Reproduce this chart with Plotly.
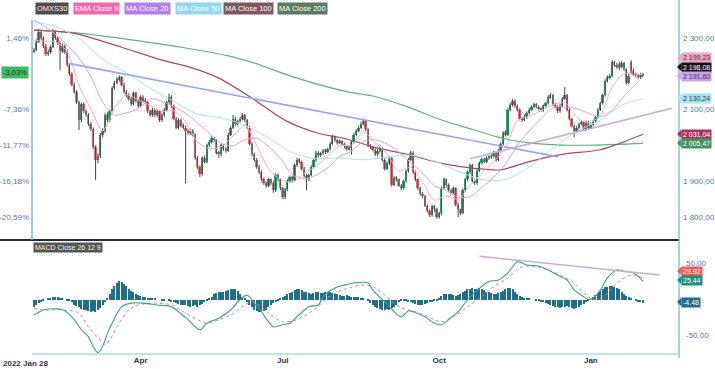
import plotly.graph_objects as go

# ---------------- data ----------------
TICK_POS = [45, 105, 171, 235]
TICK_TEXT = ["Apr", "Jul", "Oct", "Jan"]
FIRST_DATE_LABEL = "2022 Jan 28"

OPEN = [
2262,2267,2290,2318,2300,2278,2255,2262,2275,2318,
2300,2285,2265,2278,2262,2225,2200,2170,2150,2120,
2070,2115,2095,2085,2060,2045,1995,1960,1970,2030,
2040,2085,2070,2095,2160,2175,2185,2190,2170,2150,
2140,2130,2115,2145,2125,2110,2135,2125,2120,2095,
2085,2100,2085,2095,2070,2085,2100,2120,2135,2110,
2075,2050,2070,2055,2050,2040,2035,2040,2030,1965,
1940,1920,1965,1955,2000,2010,2020,2015,1980,1975,
2000,1990,1985,2030,2050,2075,2060,2068,2075,2085,
2070,2050,2005,1975,1960,1940,1925,1905,1895,1888,
1905,1895,1875,1918,1905,1880,1855,1878,1900,1912,
1903,1945,1960,1955,1935,1915,1905,1918,1940,1958,
1980,1972,1978,1985,1982,1990,2005,2025,2015,2008,
2012,2005,1998,1990,1995,2010,2030,2040,2050,2060,
2068,2045,2000,1995,1988,1975,1985,1992,1960,1935,
1950,1965,1890,1910,1905,1888,1880,1900,1928,1960,
1980,1925,1905,1880,1865,1858,1832,1818,1805,1830,
1822,1800,1810,1880,1905,1890,1875,1868,1880,1835,
1820,1812,1875,1905,1925,1945,1900,1895,1930,1950,
1962,1955,1965,1968,1970,1980,1960,1985,2005,2035,
2030,2100,2113,2125,2110,2100,2075,2072,2078,2090,
2100,2108,2115,2108,2102,2098,2110,2118,2135,2140,
2115,2108,2095,2110,2130,2140,2100,2075,2055,2040,
2048,2060,2065,2045,2065,2050,2058,2068,2078,2100,
2118,2140,2180,2190,2195,2232,2225,2228,2220,2230,
2212,2175,2232,2208,2198,2195,2190,2196]

HIGH = [
2272,2296,2325,2322,2304,2283,2268,2280,2325,2322,
2305,2290,2285,2282,2266,2230,2205,2176,2155,2125,
2120,2120,2100,2090,2066,2050,2000,1978,2035,2048,
2090,2092,2100,2165,2180,2190,2196,2194,2175,2155,
2146,2136,2150,2150,2130,2140,2140,2132,2124,2100,
2105,2104,2100,2098,2090,2105,2125,2145,2140,2114,
2080,2076,2074,2062,2056,2046,2046,2045,2034,1970,
1945,1970,1972,2005,2015,2025,2024,2018,1985,2005,
2004,1995,2035,2055,2085,2080,2072,2080,2090,2088,
2074,2054,2010,1980,1965,1946,1930,1910,1900,1910,
1908,1900,1922,1922,1908,1885,1882,1905,1916,1916,
1950,1965,1964,1958,1940,1920,1922,1945,1962,1985,
1984,1982,1990,1990,1994,2010,2030,2028,2018,2016,
2015,2008,2002,2000,2015,2035,2045,2055,2065,2075,
2072,2048,2004,1999,1992,1990,1996,1995,1964,1955,
1970,1968,1915,1914,1908,1892,1905,1932,1965,1985,
1984,1930,1908,1884,1870,1862,1836,1822,1835,1834,
1826,1815,1885,1910,1908,1894,1878,1885,1883,1840,
1824,1880,1910,1930,1950,1948,1905,1935,1955,1966,
1966,1970,1972,1975,1985,1984,1990,2010,2040,2042,
2105,2118,2130,2128,2114,2104,2080,2085,2095,2105,
2112,2120,2118,2112,2106,2114,2122,2140,2146,2144,
2118,2112,2115,2135,2163,2144,2104,2078,2058,2055,
2064,2070,2068,2070,2068,2062,2072,2082,2105,2122,
2145,2185,2195,2200,2238,2236,2230,2234,2235,2233,
2215,2200,2238,2214,2203,2200,2202,2203]

LOW = [
2258,2263,2286,2295,2272,2250,2250,2256,2272,2295,
2280,2210,2258,2255,2220,2195,2165,2145,2115,2043,
2065,2090,2080,2055,2040,1990,1903,1950,1965,2022,
2035,2065,2066,2092,2155,2170,2178,2165,2145,2135,
2125,2110,2112,2120,2105,2106,2120,2115,2090,2080,
2080,2080,2080,2065,2066,2080,2096,2115,2105,2070,
2045,2045,2050,2045,1895,2030,2030,2025,1960,1935,
1912,1916,1950,1950,1995,2005,2010,1975,1965,1970,
1985,1980,1982,2026,2046,2055,2055,2064,2070,2065,
2045,2000,1970,1955,1935,1920,1900,1890,1882,1884,
1890,1868,1870,1900,1875,1850,1850,1873,1896,1898,
1900,1940,1950,1930,1910,1875,1900,1914,1936,1954,
1966,1968,1974,1976,1978,1986,2002,2010,2002,2004,
2000,1992,1985,1986,1975,2006,2026,2036,2046,2056,
2040,1995,1990,1983,1970,1971,1980,1955,1930,1930,
1945,1885,1886,1900,1884,1875,1876,1896,1924,1956,
1920,1900,1875,1860,1852,1828,1813,1800,1801,1815,
1795,1796,1806,1876,1885,1870,1862,1864,1830,1800,
1805,1808,1870,1900,1920,1895,1890,1890,1926,1946,
1950,1950,1960,1962,1966,1955,1956,1980,2000,2025,
2026,2095,2108,2105,2095,2070,2066,2068,2074,2086,
2096,2104,2104,2098,2094,2094,2106,2114,2130,2110,
2104,2090,2091,2106,2126,2095,2070,2050,2023,2036,
2044,2056,2040,2041,2045,2046,2054,2064,2074,2096,
2114,2136,2176,2184,2190,2220,2214,2211,2215,2208,
2170,2171,2200,2194,2190,2186,2186,2192]

CLOSE = [
2267,2290,2318,2300,2278,2255,2262,2275,2318,2300,
2285,2265,2278,2262,2225,2200,2170,2150,2120,2070,
2115,2095,2085,2060,2045,1995,1960,1970,2030,2040,
2085,2070,2095,2160,2175,2185,2190,2170,2150,2140,
2130,2115,2145,2125,2110,2135,2125,2120,2095,2085,
2100,2085,2095,2070,2085,2100,2120,2135,2110,2075,
2050,2070,2055,2050,2040,2035,2040,2030,1965,1940,
1920,1965,1955,2000,2010,2020,2015,1980,1975,2000,
1990,1985,2030,2050,2075,2060,2068,2075,2085,2070,
2050,2005,1975,1960,1940,1925,1905,1895,1888,1905,
1895,1875,1918,1905,1880,1855,1878,1900,1912,1903,
1945,1960,1955,1935,1915,1905,1918,1940,1958,1980,
1972,1978,1985,1982,1990,2005,2025,2015,2008,2012,
2005,1998,1990,1995,2010,2030,2040,2050,2060,2068,
2045,2000,1995,1988,1975,1985,1992,1960,1935,1950,
1965,1890,1910,1905,1888,1880,1900,1928,1960,1980,
1925,1905,1880,1865,1858,1832,1818,1805,1830,1822,
1800,1810,1880,1905,1890,1875,1868,1880,1835,1820,
1812,1875,1905,1925,1945,1900,1895,1930,1950,1962,
1955,1965,1968,1970,1980,1960,1985,2005,2035,2030,
2100,2113,2125,2110,2100,2075,2072,2078,2090,2100,
2108,2115,2108,2102,2098,2110,2118,2135,2140,2115,
2108,2095,2110,2130,2140,2100,2075,2055,2040,2048,
2060,2065,2045,2065,2050,2058,2068,2078,2100,2118,
2140,2180,2190,2195,2232,2225,2218,2215,2230,2212,
2175,2195,2208,2198,2195,2190,2196,2198.08]

# moving averages, sampled along the trading-day index
EMA9_IDX = [0,4,9,14,19,24,29,34,39,44,49,54,59,64,69,74,79,84,89,94,99,104,109,114,119,124,129,134,139,144,149,154,159,164,169,174,179,184,189,194,199,204,209,214,219,224,229,234,239,244,249,254,257]
EMA9_VAL = [2293,2291,2289,2262,2167,2102,2041,2104,2141,2127,2112,2095,2097,2065,2010,1991,1996,2026,2056,2000,1935,1905,1897,1922,1942,1970,1999,2001,2038,2008,1976,1928,1939,1898,1847,1860,1850,1889,1922,1955,1993,2069,2082,2097,2113,2120,2079,2063,2084,2163,2200,2196,2199.23]

MA20_IDX = [0,5,10,14,19,24,29,34,39,44,49,54,59,64,69,74,79,84,89,94,99,104,109,114,119,124,129,134,139,144,149,154,159,164,169,174,179,184,189,194,199,204,209,214,219,224,229,234,239,244,249,254,257]
MA20_VAL = [2350,2330,2305,2280,2244,2192,2121,2085,2091,2102,2130,2123,2108,2090,2063,2033,2006,1999,2016,2020,1997,1964,1918,1907,1917,1938,1969,1984,2011,2016,2004,1982,1952,1923,1887,1874,1855,1857,1883,1911,1948,2002,2041,2075,2106,2107,2103,2090,2080,2098,2137,2172,2191.60]

MA50_IDX = [0,9,19,29,39,49,59,69,79,89,99,109,119,129,139,149,159,169,179,189,199,209,219,229,239,249,257]
MA50_VAL = [2345,2332,2299,2240,2203,2160,2123,2088,2077,2056,2021,1980,1963,1965,1960,1967,1973,1956,1928,1905,1905,1940,1992,2039,2071,2115,2130.24]

MA100_IDX = [0,17,37,54,66,78,92,106,120,132,143,158,172,186,197,209,223,239,249,257]
MA100_VAL = [2322,2313,2274,2238,2218,2188,2132,2070,2034,2018,1996,1974,1950,1936,1932,1955,1975,1988,2010,2031.04]

MA200_IDX = [0,17,42,64,82,92,110,132,143,158,172,186,197,209,223,237,257]
MA200_VAL = [2322,2315,2294,2272,2250,2232,2190,2150,2138,2107,2071,2043,2021,2007,2001,2001,2005.47]

# drawn trend lines (index, value)
TREND_BLUE_X = [14.5, 221.2]
TREND_BLUE_Y = [2229, 1968]
TREND_MAUVE_X = [184, 269.2]
TREND_MAUVE_Y = [1963, 2104]
TREND_MACD_X = [188, 264]
TREND_MACD_Y = [60, 34]

# MACD panel
MACD_IDX = [0,4,10,13,17,20,23,25,27,29,31,34,37,41,46,52,58,61,65,70,73,78,83,87,90,93,96,99,101,105,108,111,116,120,122,127,131,135,141,143,148,152,155,158,160,165,169,172,175,179,183,187,192,196,200,204,208,213,217,221,225,228,231,234,236,239,242,246,249,253,257]
MACD_VAL = [-21.5,-14.6,-13,-15.5,-28,-42,-52,-65.5,-74,-65,-47,-26,-10,-5,-5,-7.6,-10,-17,-28,-42,-33,-26,-14.6,0,6,-5,-17,-31,-38,-35,-33,-24,-10,-7.6,4,16,20,23,23,13,-3,-17,-24,-15.5,-17,-24,-33,-35,-28,-17,0,13,25,27,37,52.5,48,46.5,41,34,27,13,6,0,2,13,30,41,39,37,25.44]

SIGNAL_IDX = [0,4,13,19,23,27,30,32,35,40,44,52,58,63,69,73,78,83,89,92,96,100,105,111,118,125,130,134,138,143,148,154,158,163,169,172,177,183,189,194,200,205,210,217,222,228,232,236,241,246,252,257]
SIGNAL_VAL = [-12,-14.6,-14.6,-19,-38,-53,-63,-56,-38,-14.6,-7.6,-5,-7.6,-17,-28,-33,-28,-21.5,-7.6,-3,-10,-21.5,-31,-28,-14.6,5,13,17,20,18,6,-10,-14.6,-19,-28,-31,-24,-10,4,18,30,44,46.5,41,34,23,9,0,6,23,34,29.92]

HIST = [
-11,-8,-5,-3,-2,0,1,2,3,4,
3,2,1,0,-1,-2,-4,-7,-9,-11,
-13,-14,-15,-16,-17,-16,-17,-15,-12,-8,
-4,2,8,14,19,23,26,25,22,19,
15,12,10,8,6,5,4,3,2,2,
1,1,0,0,-1,-1,0,-2,-3,-4,
-5,-6,-7,-8,-8,-9,-10,-9,-8,-10,
-8,-6,-4,-2,1,4,7,9,10,11,
11,12,13,14,15,14,12,8,4,1,
-3,-7,-11,-14,-16,-17,-17,-16,-14,-11,
-8,-5,-3,-1,1,3,5,7,9,11,
13,14,15,13,11,10,9,8,9,10,
10,9,9,10,11,10,9,8,7,6,
5,5,6,5,4,4,3,3,2,1,
0,-2,-5,-8,-10,-12,-13,-14,-14,-13,
-14,-12,-10,-7,-4,-2,-1,-2,-3,-4,
-5,-6,-7,-8,-7,-6,-5,-4,-3,-2,
-1,2,5,7,8,8,7,6,5,6,
8,10,12,14,15,16,15,14,16,15,
13,11,10,9,8,8,9,10,12,14,
16,16,14,11,8,5,3,2,1,1,
0,0,-1,-2,-3,-4,-5,-6,-8,-9,
-10,-11,-12,-11,-10,-9,-10,-12,-13,-12,
-10,-8,-6,-4,-2,0,3,6,9,12,
15,17,18,19,19,18,16,14,11,8,
5,3,1,0,-2,-3,-4,-4.48]

RIGHT_TICK_VALS = [2300, 2100, 1900, 1800]
RIGHT_TICK_TEXT = ["2 300,00", "2 100,00", "1 900,00", "1 800,00"]
LEFT_TICK_VALS = [2300, 2100, 2000, 1900, 1800]
LEFT_TICK_TEXT = ["1,46%", "-7,36%", "-11,77%", "-16,18%", "-20,59%"]
MACD_TICK_VALS = [50, -50]
MACD_TICK_TEXT = ["50,00", "-50,00"]

# ---------------- figure ----------------
W, H = 715, 369
FONT = "Liberation Sans, Arial, sans-serif"
UP, DOWN = "#26b06e", "#e6737a"

def px(xp):
    return xp / W

def py(yp):
    return 1 - yp / H

N = len(CLOSE)
X = list(range(N))

fig = go.Figure()

# wicks
wx, wy = [], []
for i in X:
    wx += [i, i, None]
    wy += [LOW[i], HIGH[i], None]
fig.add_trace(go.Scatter(x=wx, y=wy, mode="lines", line=dict(color="#444444", width=1),
                         hoverinfo="skip", showlegend=False, xaxis="x", yaxis="y"))

# moving averages
def ma(ix, vals, color, width):
    fig.add_trace(go.Scatter(x=ix, y=vals, mode="lines",
                             line=dict(color=color, width=width, shape="spline", smoothing=0.8),
                             hoverinfo="skip", showlegend=False, xaxis="x", yaxis="y"))

ma(MA200_IDX, MA200_VAL, "#5cb27f", 1.2)
ma(MA100_IDX, MA100_VAL, "#a8496c", 1.2)
ma(MA50_IDX, MA50_VAL, "#aee2f4", 1)
ma(MA20_IDX, MA20_VAL, "#caa3f1", 1)
ma(EMA9_IDX, EMA9_VAL, "#f6aacb", 1)

# trend lines
fig.add_trace(go.Scatter(x=TREND_BLUE_X, y=TREND_BLUE_Y, mode="lines",
                         line=dict(color="#96a4f4", width=1.6), hoverinfo="skip",
                         showlegend=False, xaxis="x", yaxis="y"))
fig.add_trace(go.Scatter(x=TREND_MAUVE_X, y=TREND_MAUVE_Y, mode="lines",
                         line=dict(color="#c9a9d8", width=1.6), hoverinfo="skip",
                         showlegend=False, xaxis="x", yaxis="y"))

# candle bodies
fig.add_trace(go.Bar(x=X, y=[c - o for o, c in zip(OPEN, CLOSE)], base=OPEN,
                     marker=dict(color=[UP if c >= o else DOWN for o, c in zip(OPEN, CLOSE)],
                                 line=dict(width=0)),
                     width=0.78, hoverinfo="skip", showlegend=False, xaxis="x", yaxis="y"))

# invisible trace for left percent axis
fig.add_trace(go.Scatter(x=[0], y=[CLOSE[0]], mode="markers", marker=dict(opacity=0),
                         hoverinfo="skip", showlegend=False, xaxis="x", yaxis="y3"))

# MACD panel
fig.add_trace(go.Bar(x=X, y=HIST, marker=dict(color="#1f6e8c", line=dict(width=0)), width=0.55,
                     hoverinfo="skip", showlegend=False, xaxis="x2", yaxis="y2"))
fig.add_trace(go.Scatter(x=SIGNAL_IDX, y=SIGNAL_VAL, mode="lines",
                         line=dict(color="#f07a7a", width=1, dash="dot", shape="spline", smoothing=0.8),
                         hoverinfo="skip", showlegend=False, xaxis="x2", yaxis="y2"))
fig.add_trace(go.Scatter(x=MACD_IDX, y=MACD_VAL, mode="lines",
                         line=dict(color="#35a194", width=1.1, shape="spline", smoothing=0.8),
                         hoverinfo="skip", showlegend=False, xaxis="x2", yaxis="y2"))
fig.add_trace(go.Scatter(x=TREND_MACD_X, y=TREND_MACD_Y, mode="lines",
                         line=dict(color="#c9a9d8", width=1.6), hoverinfo="skip",
                         showlegend=False, xaxis="x2", yaxis="y2"))

XR = [-0.84, 272.2]
DOM_X = [px(32), px(679)]
tickfont = dict(family=FONT, size=8, color="#4b7db0")

fig.update_layout(
    width=W, height=H, autosize=False,
    margin=dict(l=0, r=0, t=0, b=0, pad=0),
    paper_bgcolor="white", plot_bgcolor="white",
    barmode="overlay", showlegend=False, bargap=0,
    xaxis=dict(domain=DOM_X, range=XR, anchor="y", showticklabels=False, automargin=False,
               showgrid=False, zeroline=False, showline=False, ticks=""),
    xaxis2=dict(domain=DOM_X, range=XR, anchor="y2", matches="x", automargin=False,
                tickvals=TICK_POS, ticktext=["<b>%s</b>" % t for t in TICK_TEXT],
                tickfont=dict(family=FONT, size=8, color="#1f3652"),
                showgrid=False, zeroline=False, showline=False, ticks=""),
    yaxis=dict(domain=[py(240), 1], range=[1736, 2406], side="right", anchor="x", automargin=False,
               tickvals=RIGHT_TICK_VALS, ticktext=RIGHT_TICK_TEXT, tickfont=tickfont,
               showgrid=False, zeroline=False, showline=False, ticks="", ticklabelstandoff=3),
    yaxis3=dict(range=[1736, 2406], overlaying="y", side="left", anchor="x", automargin=False,
                tickvals=LEFT_TICK_VALS, ticktext=LEFT_TICK_TEXT, tickfont=tickfont,
                showgrid=False, zeroline=False, showline=False, ticks="", ticklabelstandoff=2),
    yaxis2=dict(domain=[py(354), py(244)], range=[-75.7, 77.1], side="right", anchor="x2",
                automargin=False,
                tickvals=MACD_TICK_VALS, ticktext=MACD_TICK_TEXT, tickfont=tickfont,
                showgrid=False, zeroline=False, showline=False, ticks="", ticklabelstandoff=6),
)

# frame lines
shapes = [
    dict(type="line", xref="paper", yref="paper", x0=0, x1=px(680), y0=py(240), y1=py(240),
         line=dict(color="#1b2c45", width=2)),
    dict(type="line", xref="paper", yref="paper", x0=px(32), x1=px(32), y0=py(20), y1=py(240),
         line=dict(color="#7fb4d9", width=1.5)),
    dict(type="line", xref="paper", yref="paper", x0=px(679), x1=px(679), y0=py(0), y1=py(358),
         line=dict(color="#8fbfdf", width=1.5)),
    dict(type="line", xref="paper", yref="paper", x0=px(32), x1=px(679), y0=py(354), y1=py(354),
         line=dict(color="#b0d7ee", width=1.5)),
]

def badge(text, xp, yp, bg, fg, size=7.5, anchor="left", pointer=False):
    fig.add_annotation(text=text, x=px(xp), y=py(yp), xref="paper", yref="paper",
                       xanchor=anchor, yanchor="middle", showarrow=False,
                       bgcolor=bg, borderpad=1,
                       font=dict(family=FONT, size=size, color=fg))
    if pointer:
        path = "M %f %f L %f %f L %f %f Z" % (px(xp - 4), py(yp), px(xp + 0.5), py(yp - 4.5),
                                              px(xp + 0.5), py(yp + 4.5))
        shapes.append(dict(type="path", xref="paper", yref="paper", path=path,
                           fillcolor=bg, line=dict(width=0)))

# legend badges
badge("OMXS30", 35, 8, "#4c4c4c", "#f2f2f2")
badge("EMA Close 9", 73, 8, "#f26aaa", "#ffffff")
badge("MA Close 20", 124, 8, "#b37ded", "#ffffff")
badge("MA Close 50", 175, 8, "#91d8f3", "#ffffff")
badge("MA Close 100", 223, 8, "#7b5664", "#ffffff")
badge("MA Close 200", 277, 8, "#587b66", "#ffffff")

# right price badges
badge("2 199,23", 681, 58, "#f7a3c5", "#3a3a3a", 7, pointer=True)
badge("2 198,08", 681, 67, "#111111", "#ffffff", 7, pointer=True)
badge("2 191,60", 681, 76, "#c9a3f2", "#3a3a3a", 7, pointer=True)
badge("2 130,24", 681, 98, "#a8e2f5", "#3a3a3a", 7, pointer=True)
badge("2 031,04", 681, 134, "#a3365f", "#ffffff", 7, pointer=True)
badge("2 005,47", 681, 143, "#3d9460", "#ffffff", 7, pointer=True)

# left percent badge
badge("-3,03%", 1, 73, "#3fbb64", "#1d3d25", 7.5)

# MACD badges and label
badge("MACD Close 26 12 9", 33, 247, "#555555", "#f2f2f2", 7)
badge("29.92", 681, 271, "#f25a5a", "#ffffff", 7, pointer=True)
badge("25.44", 681, 280, "#1f8e84", "#ffffff", 7, pointer=True)
badge("-4.48", 681, 302, "#1d6f8d", "#ffffff", 7, pointer=True)

fig.update_layout(shapes=shapes)

# first date label
fig.add_annotation(text="<b>%s</b>" % FIRST_DATE_LABEL, x=px(1), y=py(363), xref="paper", yref="paper",
                   xanchor="left", yanchor="middle", showarrow=False,
                   font=dict(family=FONT, size=8, color="#1f3652"))

fig.write_html("out.html", config={"displayModeBar": False},
               post_script="document.body.style.margin='0';document.body.style.overflow='hidden';")
